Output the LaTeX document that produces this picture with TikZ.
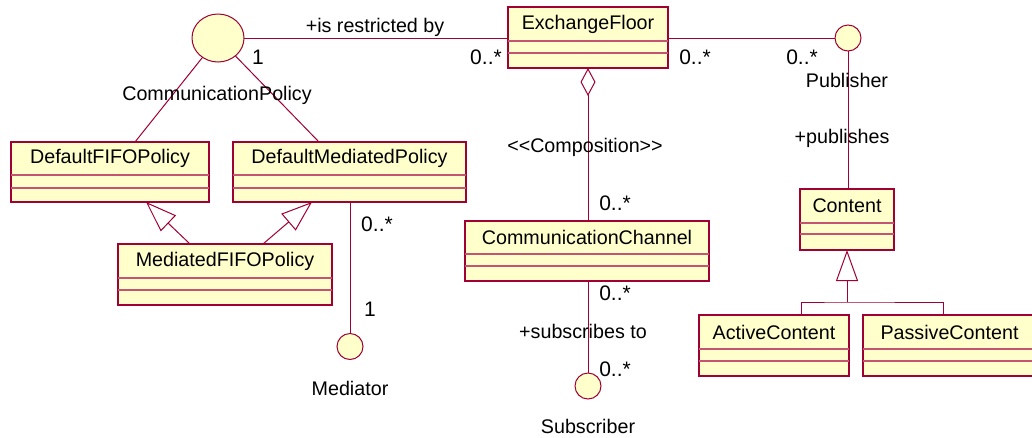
\documentclass[tikz,border=0pt]{standalone}
\usepackage{fontspec}
\setmainfont{Liberation Sans}
\usetikzlibrary{shapes.geometric,arrows.meta,calc}
\definecolor{umlline}{RGB}{160,0,50}
\definecolor{umlbar}{RGB}{195,85,115}
\definecolor{umlfill}{RGB}{255,255,204}

% class box: name, x1, y1, x2, y2, first bar, second bar, title
\newcommand\umlclass[8]{%
  \node[clsbox, minimum width=#4-#2, minimum height=#5-#3] (#1) at (#2,#3) {};
  \draw[barline] (#2,#6) -- (#4,#6);
  \draw[barline] (#2,#7) -- (#4,#7);
  \node[lbl] (#1-name) at ({(#2+#4)/2},{(#3+#6)/2}) {#8};
}

\begin{document}
\begin{tikzpicture}[x=1pt,y=-1pt,
  clsbox/.style={draw=umlline, fill=umlfill, line width=1.5pt, rectangle,
    inner sep=0pt, outer sep=0pt, anchor=north west},
  barline/.style={draw=umlbar, line width=1.2pt},
  lbl/.style={inner sep=0pt, font=\fontsize{19.7}{23}\selectfont, text=black},
  mult/.style={inner sep=0pt, font=\fontsize{21}{24}\selectfont, text=black},
  iface/.style={draw=umlline, fill=umlfill, line width=1pt, circle,
    inner sep=0pt, outer sep=0pt, minimum size=26pt},
  conn/.style={draw=umlline, line width=1pt},
  gen/.style={conn, -{Triangle[open, length=31pt, width=22pt]}},
  agg/.style={conn, {Diamond[open, length=28pt, width=15pt]}-},
]
\useasboundingbox[fill=white] (0,0) rectangle (1032,437);

% classes
\umlclass{ef}{508}{7}{668}{68}{41}{53}{ExchangeFloor}
\umlclass{dfp}{11}{142}{209}{202}{175}{188}{DefaultFIFOPolicy}
\umlclass{dmp}{233}{142}{466}{202}{175}{188}{DefaultMediatedPolicy}
\umlclass{mfp}{118}{244}{332}{305}{278}{290}{MediatedFIFOPolicy}
\umlclass{cc}{465}{221}{709}{281}{254}{266}{CommunicationChannel}
\umlclass{ct}{800}{189}{894}{250}{223}{234}{Content}
\umlclass{ac}{699}{315}{849}{376}{349}{361}{ActiveContent}
\umlclass{pc}{863}{315}{1036}{376}{349}{361}{PassiveContent}

% interfaces
\node[draw=umlline, fill=umlfill, line width=1pt, ellipse, inner sep=0pt,
  outer sep=0pt, minimum width=52pt, minimum height=48pt] (cp) at (218,38) {};
\node[iface] (pub) at (848,38) {};
\node[iface] (med) at (350,346.5) {};
\node[iface] (sub) at (588,386) {};

% associations
\draw[conn] (cp.east) -- (cp.east -| ef.west);
\draw[conn] (pub.west -| ef.east) -- (pub.west);
\draw[conn] (pub.south) -- (pub.south |- ct.north);
\draw[agg] (ef.south) -- (ef.south |- cc.north);
\draw[conn] (sub.north |- cc.south) -- (sub.north);
\draw[conn] (med.north |- dmp.south) -- (med.north);
\draw[conn] (cp) -- ($(dfp.north west)+(124,0)$);
\draw[conn] (cp) -- ($(dmp.north west)+(86,0)$);

% generalizations
\draw[gen] ($(mfp.north west)+(72,0)$) -- ($(dfp.south west)+(135,0)$);
\draw[gen] ($(mfp.north west)+(145,0)$) -- ($(dmp.south west)+(79,0)$);
\coordinate (cj) at ($(ct.south)+(0,52)$);
\draw[gen] (cj) -- (ct.south);
\draw[conn] ($(ac.north west)+(102,0)$) |- (cj) -| ($(pc.north west)+(80,0)$);

% labels
\node[lbl] (lrestr) at (375,27) {+is restricted by};
\node[mult] (lcp1) at (258,57) {1};
\node[mult] (lef1) at (486,57) {0..*};
\node[mult] (lef2) at (695,57) {0..*};
\node[mult] (lpub1) at (802,57) {0..*};
\node[lbl] (lpub) at (847,80) {Publisher};
\node[lbl] (lpubs) at (842,138) {+publishes};
\node[lbl] (lcomp) at (585,147) {<{}<Composition>{}>};
\node[mult] (lcc1) at (615,203) {0..*};
\node[mult] (lcc2) at (615,293) {0..*};
\node[lbl] (lsubs) at (583,331) {+subscribes to};
\node[mult] (lsub1) at (615,369) {0..*};
\node[lbl] (lsub) at (588,426) {Subscriber};
\node[lbl] (lcpn) at (217,95) {CommunicationPolicy};
\node[mult] (lmed1) at (377,224) {0..*};
\node[mult] (lmed2) at (370,309) {1};
\node[lbl] (lmed) at (350,388) {Mediator};
\end{tikzpicture}
\end{document}
